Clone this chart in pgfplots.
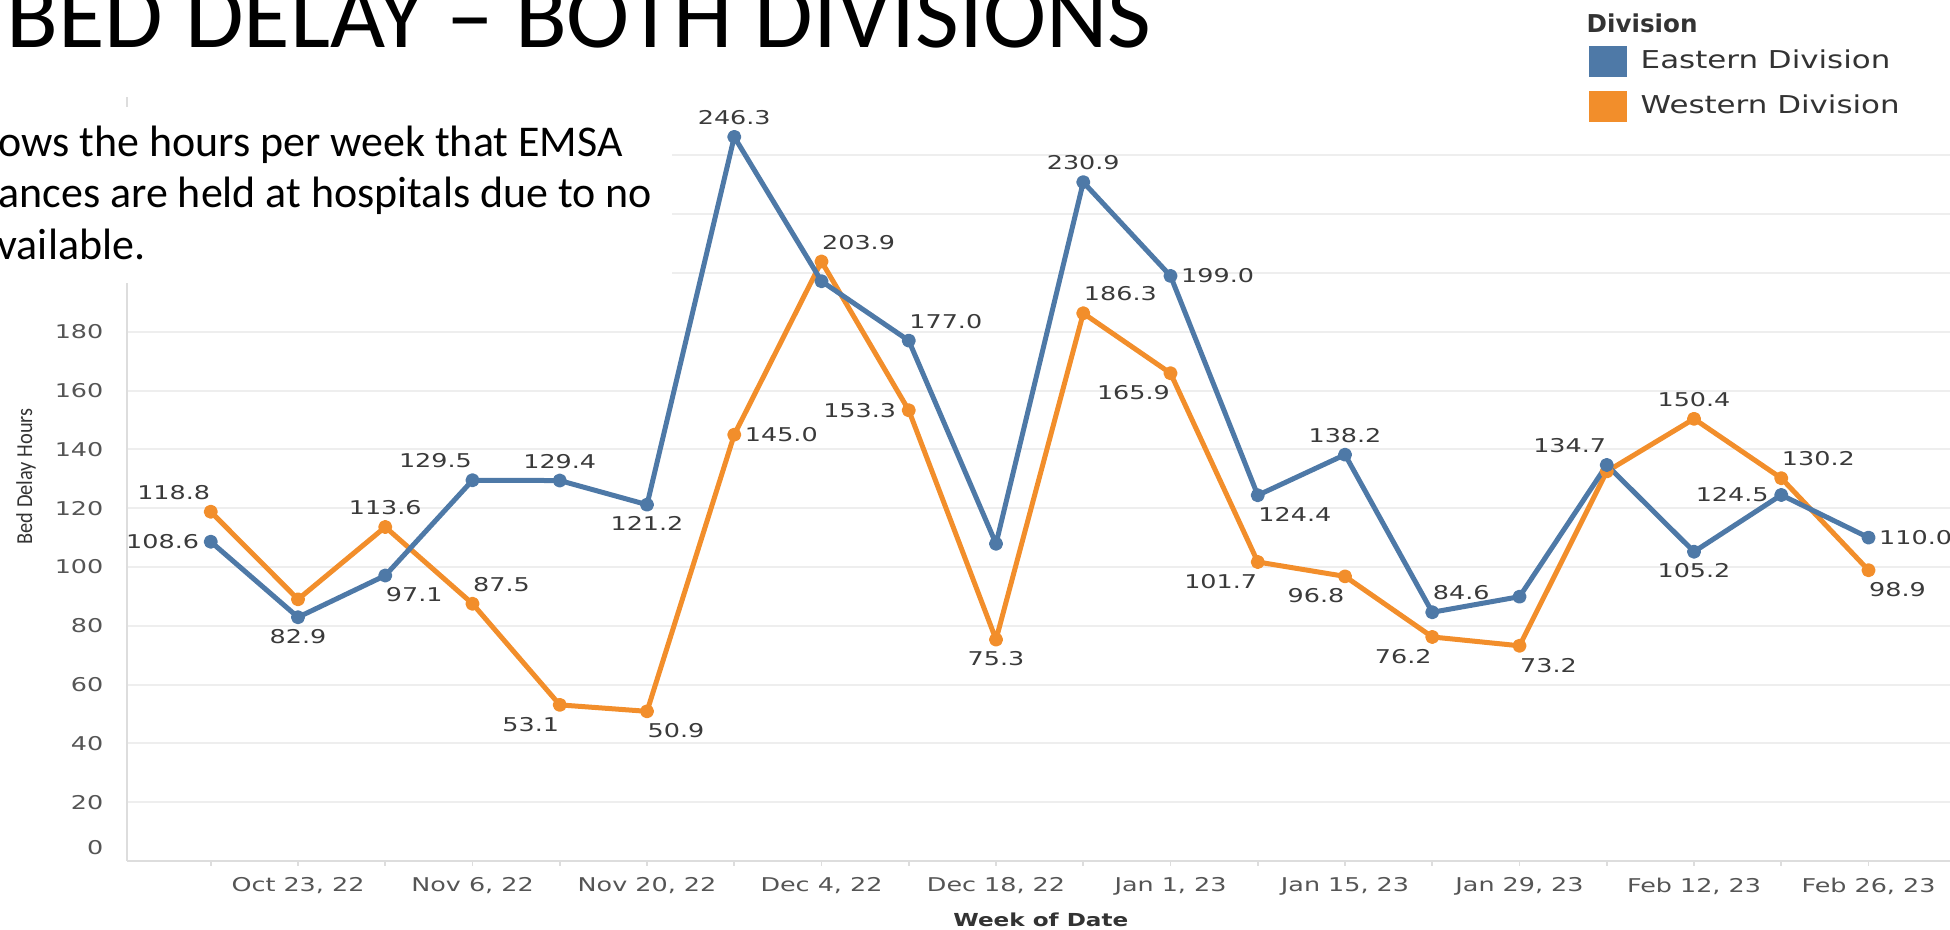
\documentclass[border=0pt]{standalone}
\usepackage{pgfplots}
\pgfplotsset{compat=1.18}
\usepackage{pgfplotstable}
\usepackage{graphicx}
\usepackage{fontspec}
\setmainfont{DejaVu Sans}
\newfontfamily\calfont{Carlito}
\newfontfamily\tabfont{DejaVu Sans}
\definecolor{eastblue}{HTML}{4E79A7}
\definecolor{westorange}{HTML}{F28E2B}
\definecolor{gridgray}{HTML}{EEEEEE}
\definecolor{axisgray}{HTML}{DDDDDD}
\definecolor{ticktext}{HTML}{555555}
\definecolor{labtext}{HTML}{3A3A3A}
\definecolor{legtext}{HTML}{333333}
\newcommand\sx[1]{\scalebox{1.34}[1]{#1}}
\newcommand\lsx[1]{\scalebox{1.256}[1]{#1}}
\newcommand\labfont{\tabfont\fontsize{5.4pt}{6.5pt}\selectfont}
% label position codes: 0 above, 1 below, 2 right, 3 left,
% 4 above-right, 5 above-left, 6 below-right, 7 below-left
\def\ancname#1{\ifdim#1pt<0.5pt south\else\ifdim#1pt<1.5pt north\else\ifdim#1pt<2.5pt west\else\ifdim#1pt<3.5pt east\else\ifdim#1pt<4.5pt south west\else\ifdim#1pt<5.5pt south east\else\ifdim#1pt<6.5pt north west\else north east\fi\fi\fi\fi\fi\fi\fi}

\pgfplotstableread[col sep=comma]{
x,y,lab,pos,dx,dy
0,108.6,108.6,3,-0.11,0
1,82.9,82.9,1,0,-0.115
2,97.1,97.1,6,0,-0.115
3,129.5,129.5,5,0,0.115
4,129.4,129.4,0,0,0.115
5,121.2,121.2,1,0,-0.115
6,246.3,246.3,0,0,0.115
7,197.2,{},0,0,0
8,177.0,177.0,4,0,0.115
9,107.9,{},0,0,0
10,230.9,230.9,0,0,0.115
11,199.0,199.0,2,0.10,0
12,124.4,124.4,6,0,-0.115
13,138.2,138.2,0,0,0.115
14,84.6,84.6,4,0,0.115
15,89.9,{},0,0,0
16,134.7,134.7,5,0,0.115
17,105.2,105.2,1,0,-0.115
18,124.5,124.5,3,-0.12,0
19,110.0,110.0,2,0.10,0
}\eastern

\pgfplotstableread[col sep=comma]{
x,y,lab,pos,dx,dy
0,118.8,118.8,5,0,0.115
1,89.0,{},0,0,0
2,113.6,113.6,0,0,0.115
3,87.5,87.5,4,0,0.115
4,53.1,53.1,7,0,-0.115
5,50.9,50.9,6,0,-0.115
6,145.0,145.0,2,0.10,0
7,203.9,203.9,4,0,0.115
8,153.3,153.3,3,-0.12,0
9,75.3,75.3,1,0,-0.115
10,186.3,186.3,4,0,0.115
11,165.9,165.9,7,0,-0.115
12,101.7,101.7,7,0,-0.115
13,96.8,96.8,7,0,-0.115
14,76.2,76.2,7,0,-0.115
15,73.2,73.2,6,0,-0.115
16,132.5,{},0,0,0
17,150.4,150.4,0,0,0.115
18,130.2,130.2,4,0,0.115
19,98.9,98.9,6,0,-0.115
}\western

\pgfplotsset{
  datalabels/.style={
    draw=none, no markers, forget plot,
    point meta=explicit symbolic,
    visualization depends on={\thisrow{pos}\as\labpos},
    visualization depends on={\thisrow{dx}\as\labdx},
    visualization depends on={\thisrow{dy}\as\labdy},
    nodes near coords={\sx{\pgfplotspointmeta}},
    every node near coord/.append style={/utils/exec={\edef\labanc{\ancname{\labpos}}},
      anchor=\labanc, xshift=\labdx cm, yshift=\labdy cm,
      inner sep=0pt, font=\labfont, text=labtext},
  },
  serieslines/.style={line width=0.05cm, line join=round, line cap=round,
    mark=*, mark size=0.045cm, mark options={solid}, forget plot},
}

\begin{document}
\begin{tikzpicture}
\useasboundingbox (0,0) rectangle (19.5,9.3);
\clip (0,0) rectangle (19.5,9.3);

\begin{axis}[
  at={(1.27cm,0.69cm)}, anchor=south west, scale only axis,
  width=18.288cm, height=7.644cm,
  xmin=-0.96, xmax=20, ymin=0, ymax=260,
  clip=false,
  axis x line*=bottom, axis y line*=left,
  axis line style={draw=axisgray, line width=0.6pt, -},
  xtick={1,3,...,19},
  xticklabels={{\sx{Oct 23, 22}},{\sx{Nov 6, 22}},{\sx{Nov 20, 22}},{\sx{Dec 4, 22}},{\sx{Dec 18, 22}},{\sx{Jan 1, 23}},{\sx{Jan 15, 23}},{\sx{Jan 29, 23}},{\sx{Feb 12, 23}},{\sx{Feb 26, 23}}},
  minor xtick={0,2,...,20},
  xtick style={draw=axisgray, line width=0.5pt},
  minor tick style={draw=axisgray, line width=0.5pt},
  major tick length=0.05cm, minor tick length=0.05cm,
  tick align=outside,
  ytick={20,40,...,240},
  yticklabels={\sx{20},\sx{40},\sx{60},\sx{80},\sx{100},\sx{120},\sx{140},\sx{160},\sx{180},{},{},{}},
  ytick style={draw=none},
  extra y ticks={0}, extra y tick labels={\sx{0}},
  extra y tick style={grid=none, yticklabel style={yshift=0.13cm}},
  ymajorgrids, grid style={draw=gridgray, line width=0.6pt},
  yticklabel style={anchor=east, inner sep=0pt, xshift=-0.18cm, font=\labfont, text=ticktext},
  xticklabel style={anchor=north, inner sep=0pt, yshift=-0.11cm, font=\labfont, text=ticktext},
  xlabel={\scalebox{1.29}[1]{\bfseries Week of Date}},
  xlabel style={at={(axis description cs:0.4997,-0.0772)}, anchor=center,
    font=\tabfont\fontsize{5.1pt}{6pt}\selectfont, text=legtext},
  ylabel={\scalebox{1}[1.12]{Bed Delay Hours}},
  ylabel style={at={(axis description cs:-0.0552,0.503)}, anchor=center,
    font=\calfont\fontsize{5.8pt}{7pt}\selectfont, text=legtext},
  legend style={draw=none, fill=none, at={(axis description cs:0.7989,1.0668)},
    anchor=north west, inner sep=0pt, row sep=0.14cm,
    font=\tabfont\fontsize{7pt}{8.4pt}\selectfont, text=legtext,
    nodes={inner sep=0pt},
    /tikz/every odd column/.append style={column sep=0.14cm}},
  legend cell align=left,
  legend image code/.code={\fill[#1] (0cm,-0.155cm) rectangle (0.38cm,0.155cm);},
]
\addlegendimage{fill=eastblue, draw=none}
\addlegendentry{\lsx{Eastern Division}}
\addlegendimage{fill=westorange, draw=none}
\addlegendentry{\lsx{Western Division}}

\addplot[serieslines, color=westorange] table[x=x, y=y] {\western};
\addplot[serieslines, color=eastblue] table[x=x, y=y] {\eastern};
\addplot[datalabels] table[x=x, y=y, meta=lab] {\western};
\addplot[datalabels] table[x=x, y=y, meta=lab] {\eastern};
\end{axis}

% legend title
\node[anchor=west, inner sep=0pt, text=legtext, font=\tabfont\bfseries\fontsize{7pt}{8.4pt}\selectfont] at (15.86,9.07) {Division};

% slide text box covering the upper-left of the chart
\fill[white] (0,6.47) rectangle (6.72,8.23);
\node[anchor=base west, inner sep=0pt, font=\calfont\fontsize{12.5pt}{14pt}\selectfont] at (-0.02,7.73) {ows the hours per week that EMSA};
\node[anchor=base west, inner sep=0pt, font=\calfont\fontsize{12.5pt}{14pt}\selectfont] at (-0.02,7.22) {ances are held at hospitals due to no};
\node[anchor=base west, inner sep=0pt, font=\calfont\fontsize{12.5pt}{14pt}\selectfont] at (-0.03,6.70) {vailable.};
% slide title (cut at the top edge)
\node[anchor=base west, inner sep=0pt, font=\calfont\fontsize{27.1pt}{30pt}\selectfont] at (0.06,8.82) {BED DELAY – BOTH DIVISIONS};
\end{tikzpicture}
\end{document}
